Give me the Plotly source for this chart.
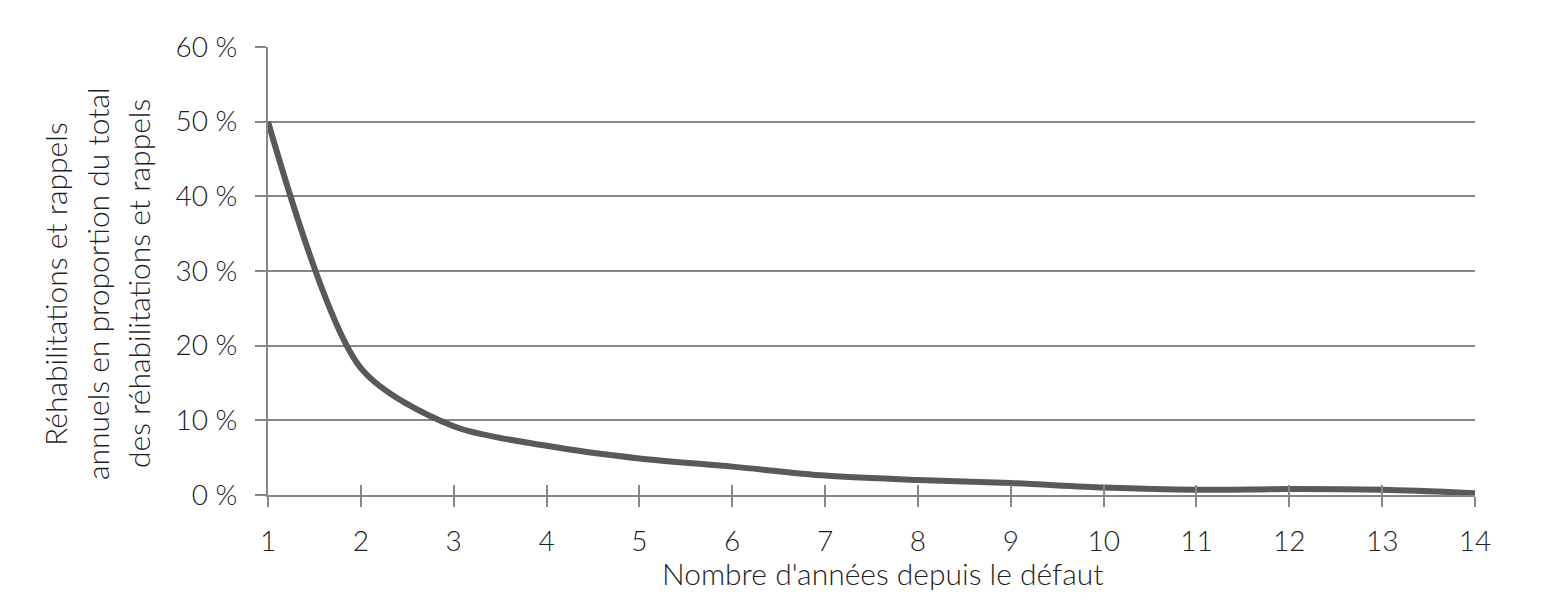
import plotly.graph_objects as go

# Share of rehabilitations and recalls per year since default
annees = [1, 2, 3, 4, 5, 6, 7, 8, 9, 10, 11, 12, 13, 14]
part = [50.0, 17.0, 9.2, 6.6, 4.9, 3.8, 2.6, 2.0, 1.6, 1.0, 0.7, 0.8, 0.7, 0.25]

y_ticks = [0, 10, 20, 30, 40, 50, 60]
y_labels = [f"{v} %" for v in y_ticks]

y_title_lines = [
    "Réhabilitations et rappels",
    "annuels en proportion du total",
    "des réhabilitations et rappels",
]
x_title = "Nombre d'années depuis le défaut"

grid = "#878787"
txt = "#1f1f1f"
font_family = "Lato"

# page has an 8px body offset, so margins are shifted to compensate
off = 8
left, right, top, bottom = 268, 1475, 47, 495
pw, ph = right - left, bottom - top

fig = go.Figure()

fig.add_trace(go.Scatter(
    x=annees,
    y=part,
    mode="lines",
    line=dict(color="#595959", width=6, shape="spline", smoothing=0.8),
    showlegend=False,
    hovertemplate="%{x} : %{y:.1f} %<extra></extra>",
))

fig.update_layout(
    width=1553,
    height=607,
    plot_bgcolor="white",
    paper_bgcolor="white",
    margin=dict(l=left - off, r=1553 - right + off, t=top - off, b=607 - bottom + off),
    font=dict(family=font_family, size=26, color=txt, weight=300),
    xaxis=dict(
        range=[1, 14],
        tickvals=annees,
        ticks="outside",
        ticklen=10,
        tickwidth=2,
        tickcolor=grid,
        showgrid=False,
        showline=True,
        linecolor=grid,
        linewidth=2,
        zeroline=False,
        ticklabelstandoff=10,
        tickfont=dict(size=28, color=txt),
    ),
    xaxis2=dict(
        overlaying="x",
        range=[1, 14],
        tickvals=annees,
        ticks="inside",
        ticklen=10,
        tickwidth=2,
        tickcolor=grid,
        showticklabels=False,
        showgrid=False,
        showline=False,
        zeroline=False,
        side="bottom",
    ),
    yaxis=dict(
        range=[0, 60],
        tickvals=y_ticks,
        ticktext=y_labels,
        ticks="outside",
        ticklen=11,
        tickwidth=2,
        tickcolor=grid,
        showgrid=True,
        gridcolor=grid,
        gridwidth=2,
        showline=True,
        linecolor=grid,
        linewidth=2,
        zeroline=False,
        ticklabelstandoff=12,
        tickfont=dict(size=28, color=txt),
    ),
)

# invisible trace so the overlay axis draws its inner ticks
fig.add_trace(go.Scatter(x=[1, 14], y=[None, None], xaxis="x2", showlegend=False,
                         hoverinfo="skip", mode="lines"))

# y-axis title on three separate lines
for line, px in zip(y_title_lines, [55, 97, 138]):
    fig.add_annotation(
        text=line,
        xref="paper", yref="paper",
        x=(px - left) / pw, y=(bottom - 284) / ph,
        xanchor="center", yanchor="middle",
        textangle=-90,
        showarrow=False,
        font=dict(size=30, color=txt),
    )

fig.add_annotation(
    text=x_title,
    xref="paper", yref="paper",
    x=(882 - left) / pw, y=(bottom - 573) / ph,
    xanchor="center", yanchor="middle",
    showarrow=False,
    font=dict(size=30, color=txt),
)

fig.write_html("out.html")
